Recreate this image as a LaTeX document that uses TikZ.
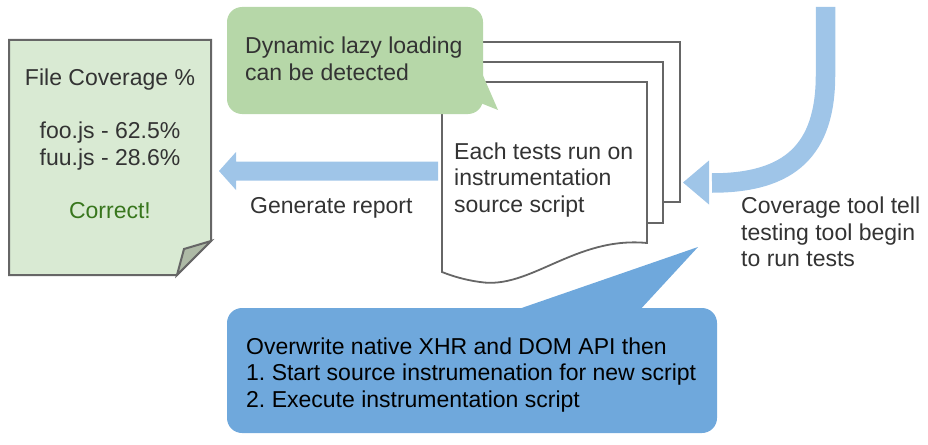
\documentclass[tikz,border=0pt]{standalone}
\usepackage{fontspec}
\setmainfont{Liberation Sans}
\frenchspacing
\definecolor{docfill}{HTML}{D9EAD3}
\definecolor{bordergray}{HTML}{666666}
\definecolor{foldfill}{HTML}{AEBAA6}
\definecolor{greencall}{HTML}{B6D7A8}
\definecolor{bluecall}{HTML}{6FA8DC}
\definecolor{arrowblue}{HTML}{9FC5E8}
\definecolor{txtgray}{HTML}{333333}
\definecolor{okgreen}{HTML}{38761D}
\begin{document}
\begin{tikzpicture}[x=1pt,y=-1pt,
  txt/.style={font=\fontsize{23}{26.5}\selectfont, text=txtgray, inner sep=0pt},
  docline/.style={draw=bordergray, line width=2pt, line join=miter},
  pageline/.style={draw=bordergray, line width=1.8pt, fill=white}]
\useasboundingbox (0,0) rectangle (928,444);
% coverage report page
\path[docline, fill=docfill] (9,40) -- (211,40) -- (211,241) -- (177,275) -- (9,275) -- cycle;
\path[docline, fill=foldfill] (211,241) -- (184,249) -- (177,275) -- cycle;
\node[txt, align=center] (report) at (110,144)
  {File Coverage \%\\[26.5pt]foo.js - 62.5\%\\fuu.js - 28.6\%\\[26.5pt]\textcolor{okgreen}{Correct!}};
% stack of source pages
\path[pageline] (475,42) rectangle (680,202);
\path[pageline] (458,62) rectangle (663,223);
\path[pageline] (442,82) -- (647,82) -- (647,243)
  .. controls (575,236) and (530,290) .. (480,282)
  .. controls (465,280) and (452,276) .. (442,272) -- cycle;
\node[txt, anchor=west, align=left] (tests) at (454,180)
  {Each tests run on\\instrumentation\\source script};
% green callout
\fill[greencall, rounded corners=15pt] (227,7) rectangle (483,114);
\fill[greencall] (478,64) -- (498,110) -- (478,102) -- cycle;
\node[txt, anchor=west, align=left] (lazy) at (245,59)
  {Dynamic lazy loading\\can be detected};
% generate report arrow
\coordinate (genstart) at (438,171);
\coordinate (gentip) at (219,171);
\fill[arrowblue] (genstart) ++(0,-9.5) -- (236,161.5) -- (236,152) -- (gentip)
  -- (236,190) -- (236,180.5) -- (438,180.5) -- cycle;
\node[txt, anchor=base west] (gen) at (250,213) {Generate report};
% curved arrow from coverage tool
\coordinate (cstart) at (825.5,7);
\coordinate (cend) at (712,183);
\coordinate (ctip) at (683,182.5);
\draw[arrowblue, line width=19.5pt] (cstart) -- (825.5,75)
  .. controls (825.5,150) and (790,183) .. (cend);
\fill[arrowblue] (709,160.5) -- (ctip) -- (709,204.5) -- cycle;
\node[txt, anchor=west, align=left] (cov) at (741,232)
  {Coverage tool tell\\testing tool begin\\to run tests};
% blue callout
\fill[bluecall, rounded corners=15pt] (227,308) rectangle (717,433);
\fill[bluecall] (510,312) -- (698,247) -- (638,312) -- cycle;
\node[txt, text=black, anchor=west, align=left] (xhr) at (246,375)
  {Overwrite native XHR and DOM API then\\1. Start source instrumenation for new script\\2. Execute instrumentation script};
\end{tikzpicture}
\end{document}
